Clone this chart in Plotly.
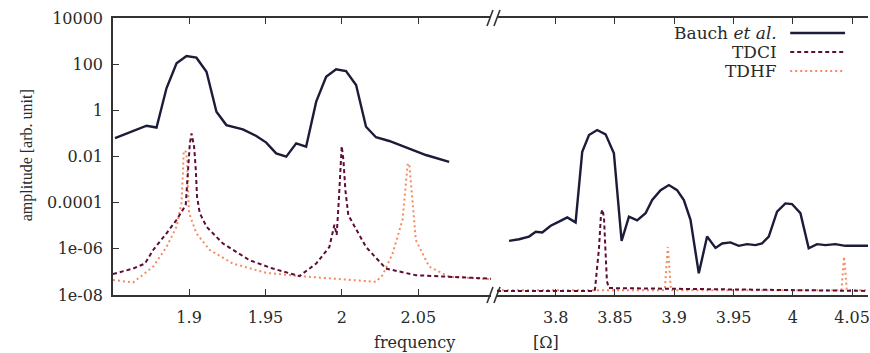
import plotly.graph_objects as go

# ---------------- data ----------------
bauch_left_f = [1.8515, 1.8722, 1.8787, 1.8852, 1.8918, 1.8983, 1.9048, 1.9114, 1.9179, 1.9244,
                1.9352, 1.9440, 1.9505, 1.9570, 1.9636, 1.9701, 1.9766, 1.9832, 1.9897, 1.9962,
                2.0027, 2.0093, 2.0158, 2.0223, 2.0310, 2.0419, 2.0550, 2.0702]
bauch_left_a = [0.062, 0.215, 0.18, 9.0, 109, 226, 191, 47, 0.87, 0.23,
                0.15, 0.077, 0.040, 0.0137, 0.0098, 0.037, 0.0265, 2.37, 28.6, 60,
                50.6, 12.5, 0.195, 0.068, 0.047, 0.024, 0.0116, 0.0059]

tdci_left_f = [1.8502, 1.8634, 1.8711, 1.8765, 1.8852, 1.8918, 1.8978, 1.8993, 1.9005, 1.9016,
               1.9033, 1.9044, 1.9052, 1.9070, 1.9114, 1.9222, 1.9396, 1.9548, 1.9722, 1.9832,
               1.9918, 1.9951, 1.9966, 1.9980, 1.9990, 1.9999, 2.0010, 2.0023, 2.0042, 2.0070,
               2.0158, 2.0288, 2.0484, 2.0976]
tdci_left_a = [8.1e-8, 1.4e-7, 2.3e-7, 8.9e-7, 4.7e-6, 1.8e-5, 7.9e-5, 2.6e-3, 0.037, 0.1,
               0.026, 2.6e-3, 1.8e-4, 3.5e-5, 9.1e-6, 1.7e-6, 3.2e-7, 1.4e-7, 6.6e-8, 2.3e-7,
               1.2e-6, 1.1e-5, 4.0e-6, 1.3e-4, 4.3e-3, 0.028, 7.1e-3, 3.5e-4, 2.9e-5, 1.3e-5,
               1.2e-6, 1.4e-7, 7.2e-8, 5.1e-8]

tdhf_left_f = [1.8502, 1.8634, 1.8765, 1.8852, 1.8918, 1.8950, 1.8959, 1.8965, 1.8980, 1.8987,
               1.8993, 1.9000, 1.9048, 1.9135, 1.9287, 1.9505, 1.9723, 1.9940, 2.0223, 2.0266,
               2.0332, 2.0397, 2.0430, 2.0441, 2.0462, 2.0484, 2.0571, 2.0702, 2.0976]
tdhf_left_a = [4.5e-8, 3.5e-8, 1.7e-7, 1.2e-6, 9.1e-6, 9.3e-5, 1.6e-3, 0.018, 0.016, 7.1e-3,
               3.5e-4, 3.5e-5, 4.7e-6, 8.9e-7, 2.3e-7, 9.1e-8, 6.6e-8, 5.2e-8, 3.7e-8, 7.2e-8,
               6.3e-7, 1.8e-5, 4.3e-3, 5.0e-3, 9.3e-5, 2.4e-6, 1.7e-7, 6.2e-8, 4.8e-8]

bauch_right_f = [3.7607, 3.7691, 3.7775, 3.7832, 3.7887, 3.7958, 3.8028, 3.8098, 3.8168, 3.8224,
                 3.8281, 3.8350, 3.8421, 3.8491, 3.8556, 3.8618, 3.8687, 3.8758, 3.8814, 3.8885,
                 3.8955, 3.9024, 3.9081, 3.9137, 3.9207, 3.9277, 3.9348, 3.9404, 3.9474, 3.9544,
                 3.9614, 3.9685, 3.9740, 3.9797, 3.9867, 3.9937, 3.9993, 4.0064, 4.0134, 4.0204,
                 4.0275, 4.0359, 4.0443, 4.0527, 4.0639]
bauch_right_a = [2.2e-6, 2.6e-6, 3.4e-6, 5.5e-6, 5.1e-6, 1.0e-5, 1.5e-5, 2.3e-5, 1.4e-5, 0.016,
                 0.085, 0.14, 0.091, 0.0138, 2.2e-6, 2.5e-5, 1.7e-5, 3.5e-5, 1.3e-4, 3.5e-4,
                 5.8e-4, 3.5e-4, 1.3e-4, 1.8e-5, 8.7e-8, 3.4e-6, 1.1e-6, 1.7e-6, 1.9e-6, 1.35e-6,
                 1.6e-6, 1.45e-6, 1.7e-6, 3.4e-6, 4.1e-5, 9.3e-5, 8.7e-5, 3.5e-5, 1.05e-6, 1.6e-6,
                 1.45e-6, 1.6e-6, 1.35e-6, 1.35e-6, 1.35e-6]

tdci_right_f = [3.7505, 3.8330, 3.8365, 3.8382, 3.8393, 3.8407, 3.8424, 3.8432, 3.8449, 4.0634]
tdci_right_a = [1.5e-8, 1.5e-8, 1.0e-6, 3.0e-5, 5.1e-5, 2.5e-5, 3.0e-7, 4.0e-8, 2.0e-8, 1.5e-8]

tdhf_right_f = [3.7505, 3.8920, 3.8935, 3.8946, 3.8957, 3.8972, 4.0410, 4.0423, 4.0432, 4.0441,
                4.0455, 4.0634]
tdhf_right_a = [1.6e-8, 1.6e-8, 2.0e-7, 1.2e-6, 2.0e-7, 1.6e-8, 1.6e-8, 1.5e-7, 4.6e-7, 1.5e-7,
                1.6e-8, 1.6e-8]

y_tickvals = [1e-8, 1e-6, 1e-4, 1e-2, 1, 100, 10000]
y_ticktext = ["1e-08", "1e-06", "0.0001", "0.01", "1", "100", "10000"]
xl_tickvals = [1.9, 1.95, 2.0, 2.05]
xl_ticktext = ["1.9", "1.95", "2", "2.05"]
xr_tickvals = [3.8, 3.85, 3.9, 3.95, 4.0, 4.05]
xr_ticktext = ["3.8", "3.85", "3.9", "3.95", "4", "4.05"]
legend_names = ["Bauch <i>et al.</i>", "TDCI", "TDHF"]

# ---------------- styling ----------------
FONT = "DejaVu Serif"
FONT_Y = "Liberation Serif"
FS = 16
TXT = "#2a2a2a"
AX = "#333333"
C_BAUCH = "#1b1b3a"
C_TDCI = "#5e0c38"
C_TDHF = "#f48a62"

W, H = 870, 353
ML, MR, MT, MB = 113, 0, 18, 58
PW = W - ML - MR
PH = H - MT - MB


def px(x):
    return (x - ML) / PW


def py(y):
    return (H - MB - y) / PH


fig = go.Figure()

styles = [
    (C_BAUCH, 2.4, "solid"),
    (C_TDCI, 2.0, "4px,3px"),
    (C_TDHF, 2.0, "2px,3px"),
]
left_sets = [(bauch_left_f, bauch_left_a), (tdci_left_f, tdci_left_a), (tdhf_left_f, tdhf_left_a)]
right_sets = [(bauch_right_f, bauch_right_a), (tdci_right_f, tdci_right_a), (tdhf_right_f, tdhf_right_a)]

for idx in [2, 1, 0]:
    c, w, d = styles[idx]
    fl, al = left_sets[idx]
    fr, ar = right_sets[idx]
    fig.add_trace(go.Scatter(x=fl, y=al, mode="lines", xaxis="x", yaxis="y",
                             line=dict(color=c, width=w, dash=d), showlegend=False))
    fig.add_trace(go.Scatter(x=fr, y=ar, mode="lines", xaxis="x2", yaxis="y",
                             line=dict(color=c, width=w, dash=d), showlegend=False))

left_end = 492
right_start = 498
dom_l = [0, px(left_end)]
dom_r = [px(right_start), 1]

common_x = dict(showline=True, linecolor=AX, linewidth=1.5, mirror="ticks",
                ticks="inside", ticklen=6, tickwidth=1.2, tickcolor=AX,
                showgrid=False, zeroline=False, ticklabeloverflow="allow",
                ticklabelstandoff=7,
                tickfont=dict(family=FONT, size=FS, color=TXT))

fig.update_layout(
    width=W, height=H,
    margin=dict(l=ML, r=MR, t=MT, b=MB),
    paper_bgcolor="white", plot_bgcolor="white",
    showlegend=False,
    font=dict(family=FONT, size=FS, color=TXT),
    xaxis=dict(domain=dom_l, range=[1.8502, 2.0976], tickvals=xl_tickvals,
               ticktext=xl_ticktext, anchor="y", **common_x),
    xaxis2=dict(domain=dom_r, range=[3.7505, 4.0634], tickvals=xr_tickvals,
                ticktext=xr_ticktext, anchor="y", **common_x),
    yaxis=dict(type="log", range=[-8, 4], tickvals=y_tickvals, ticktext=y_ticktext,
               showline=True, linecolor=AX, linewidth=1.5, ticks="inside", ticklen=6,
               tickwidth=1.2, tickcolor=AX, showgrid=False, zeroline=False,
               ticklabelstandoff=5,
               tickfont=dict(family=FONT, size=FS, color=TXT), anchor="x"),
)

ann = []
ann.append(dict(text="amplitude [arb. unit]", x=px(27), y=py(155), xref="paper", yref="paper",
                textangle=-90, showarrow=False, font=dict(family=FONT_Y, size=16, color=TXT),
                xanchor="center", yanchor="middle"))
ann.append(dict(text="frequency", x=px(415), y=py(342), xref="paper", yref="paper",
                showarrow=False, font=dict(family=FONT, size=FS, color=TXT),
                xanchor="center", yanchor="middle"))
ann.append(dict(text="[Ω]", x=px(547), y=py(342), xref="paper", yref="paper",
                showarrow=False, font=dict(family=FONT, size=FS, color=TXT),
                xanchor="center", yanchor="middle"))

shapes = []
legend_y = [33, 52, 71]
for i, name in enumerate(legend_names):
    c, w, d = styles[i]
    ann.append(dict(text=name, x=px(780), y=py(legend_y[i]), xref="paper", yref="paper",
                    showarrow=False, font=dict(family=FONT, size=17, color=TXT),
                    xanchor="right", yanchor="middle", borderpad=0))
    shapes.append(dict(type="line", xref="paper", yref="paper",
                       x0=px(792), x1=px(847), y0=py(legend_y[i]), y1=py(legend_y[i]),
                       line=dict(color=c, width=w, dash=d)))

for yc in [MT, H - MB]:
    for xc in [491, 498]:
        shapes.append(dict(type="line", xref="paper", yref="paper",
                           x0=px(xc - 3), y0=py(yc + 8), x1=px(xc + 3), y1=py(yc - 8),
                           line=dict(color=AX, width=1.6)))

fig.update_layout(annotations=ann, shapes=shapes)

fig.write_html("out.html")
